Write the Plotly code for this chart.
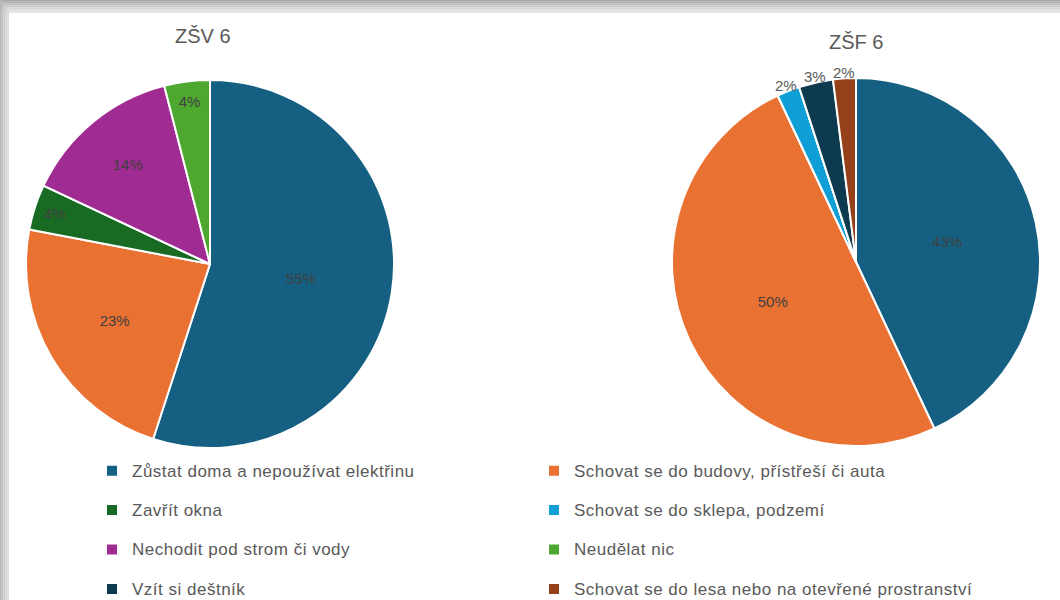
import math
import plotly.graph_objects as go

labels = [
    "Zůstat doma a nepoužívat elektřinu",
    "Schovat se do budovy, přístřeší či auta",
    "Zavřít okna",
    "Schovat se do sklepa, podzemí",
    "Nechodit pod strom či vody",
    "Neudělat nic",
    "Vzít si deštník",
    "Schovat se do lesa nebo na otevřené prostranství",
]
zsv6 = [55, 23, 4, 0, 14, 4, 0, 0]
zsf6 = [43, 50, 0, 2, 0, 0, 3, 2]
titles = ["ZŠV 6", "ZŠF 6"]
colors = ["#156082", "#E97132", "#196B24", "#0F9ED5", "#A02B93", "#4EA72E", "#0D3A4E", "#94411B"]

W, H = 1060, 600
FONT = "Liberation Sans, Arial, sans-serif"

# legend labels: smaller inline text so the legend rows get the tall spacing
leg_labels = ['<span style="font-size:17px;letter-spacing:0.5px;baseline-shift:5px">' + l + '</span>'
              for l in labels]

# pie geometry in pixels: (center x, center y, radius)
PIES = [(210, 264, 184), (856, 262, 184)]
SMALL = 3  # slices this small get their label just outside the rim


def dom_of(cx, cy, r):
    return dict(x=[(cx - r) / W, (cx + r) / W], y=[1 - (cy + r) / H, 1 - (cy - r) / H])


def pie(values, geom, outside_small):
    tt, tp = [], []
    for v in values:
        if v == 0 or (outside_small and v <= SMALL):
            tt.append("")
            tp.append("none")
        else:
            tt.append("%{value}%")
            tp.append("inside")
    return go.Pie(
        labels=leg_labels,
        values=values,
        sort=False,
        direction="clockwise",
        rotation=0,
        domain=dom_of(*geom),
        marker=dict(colors=colors, line=dict(color="white", width=2)),
        texttemplate=tt,
        textposition=tp,
        insidetextorientation="horizontal",
        insidetextfont=dict(family=FONT, size=15, color="#404040"),
        hoverinfo="label+percent",
    )


fig = go.Figure()
fig.add_trace(pie(zsv6, PIES[0], False))
fig.add_trace(pie(zsf6, PIES[1], True))

# labels of the thin slices of the second pie, placed just outside the rim at each slice's mid-angle
annotations = []
cx, cy, r = PIES[1]
total = sum(zsf6)
cum = 0
for v in zsf6:
    if v > 0 and v <= SMALL:
        mid = (cum + v / 2) / total * 2 * math.pi
        rr = r + 6
        annotations.append(dict(
            text=f"{v}%", x=(cx + rr * math.sin(mid)) / W, y=1 - (cy - rr * math.cos(mid)) / H,
            xref="paper", yref="paper", showarrow=False, xanchor="center", yanchor="middle",
            font=dict(family=FONT, size=15, color="#595959")))
    cum += v

annotations += [
    dict(text=titles[0], x=203 / W, y=1 - 36 / H, xref="paper", yref="paper",
         showarrow=False, font=dict(family=FONT, size=20, color="#595959"), xanchor="center", yanchor="middle"),
    dict(text=titles[1], x=856 / W, y=1 - 42 / H, xref="paper", yref="paper",
         showarrow=False, font=dict(family=FONT, size=20, color="#595959"), xanchor="center", yanchor="middle"),
]

# background card with a soft grey frame
shapes = []
top_greys = ["#a9a9a9", "#b4b4b4", "#bfbfbf", "#c9c9c9", "#d3d3d3", "#dcdcdc", "#e4e4e4"]
n = len(top_greys)
for i, c in enumerate(top_greys):
    y0 = 13 * i / n
    y1 = 13 * (i + 1) / n
    shapes.append(dict(type="rect", xref="paper", yref="paper", x0=0, x1=1,
                       y0=1 - y1 / H, y1=1 - y0 / H, fillcolor=c, line_width=0, layer="below"))
left_greys = ["#b8b8b8", "#c2c2c2", "#cbcbcb", "#d4d4d4", "#dcdcdc"]
n = len(left_greys)
for i, c in enumerate(left_greys):
    x0 = 9 * i / n
    x1 = 9 * (i + 1) / n
    shapes.append(dict(type="rect", xref="paper", yref="paper", x0=x0 / W, x1=x1 / W,
                       y0=0, y1=1 - (13 * i / n) / H, fillcolor=c, line_width=0, layer="below"))

fig.update_layout(
    width=W, height=H, autosize=False,
    margin=dict(l=0, r=0, t=0, b=0, autoexpand=False),
    paper_bgcolor="white", plot_bgcolor="white",
    shapes=shapes,
    annotations=annotations,
    showlegend=True,
    legend=dict(
        orientation="h",
        x=92 / W, xanchor="left",
        y=1 - 446 / H, yanchor="top",
        entrywidth=397, entrywidthmode="pixels",
        font=dict(family=FONT, size=28, color="#595959"),
        bgcolor="rgba(0,0,0,0)",
        traceorder="normal",
    ),
)

# let the 1060x600 figure fill the window exactly (no default page margin)
fig.write_html("out.html", config={"displayModeBar": False},
               post_script="document.body.style.margin='0px';")
